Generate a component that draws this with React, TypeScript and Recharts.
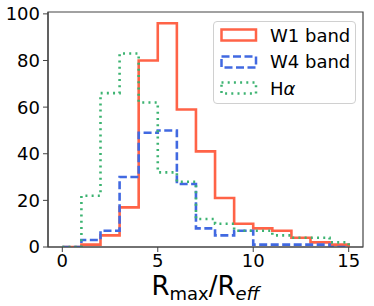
import { LineChart, Line, XAxis, YAxis, ReferenceArea, Legend } from "recharts";

// bin left edges (bin width 1)
const binEdges = [0, 1, 2, 3, 4, 5, 6, 7, 8, 9, 10, 11, 12, 13, 14];
const w1Counts = [0, 1, 5, 17, 80, 96, 59, 41, 21, 10, 8, 7, 4, 2, 1];
const w4Counts = [0, 3, 7, 30, 49, 50, 27, 8, 5, 7, 1, 1, 1, 1, 0];
const haCounts = [0, 22, 66, 83, 62, 32, 28, 12, 10, 7, 7, 5, 4, 4, 2];
const xTicks = [0, 5, 10, 15];
const yTicks = [0, 20, 40, 60, 80, 100];

const series = [
  { key: "w1", name: "W1 band", color: "#ff6347", dash: undefined as string | undefined },
  { key: "w4", name: "W4 band", color: "#4169e1", dash: "8 3.5" },
  { key: "ha", name: "Hα", color: "#3cb371", dash: "2 4.2" },
];

// step outline: one point per bin edge, closing back to 0 at the last edge
const data = [
  ...binEdges.map((x, i) => ({ x, w1: w1Counts[i], w4: w4Counts[i], ha: haCounts[i] })),
  { x: binEdges[binEdges.length - 1] + 1, w1: 0, w4: 0, ha: 0 },
];

const FONT = "'DejaVu Sans', sans-serif";
const AXIS = "#444";

const XLabel = (props: any) => {
  const { viewBox } = props;
  const cx = viewBox.x + viewBox.width / 2;
  return (
    <text x={cx} y={295} textAnchor="middle" fontSize={26} fontFamily={FONT} fill="#000">
      R
      <tspan fontSize={18} dy={5}>max</tspan>
      <tspan dy={-5}>/R</tspan>
      <tspan fontSize={18} dy={5} fontStyle="italic">eff</tspan>
    </text>
  );
};

const renderLegend = () => (
  <div
    style={{
      width: 143,
      height: 83,
      boxSizing: "border-box",
      border: "1px solid #d0d0d0",
      borderRadius: 4,
      background: "#fff",
      position: "relative",
      fontFamily: FONT,
      fontSize: 18,
      color: "#000",
    }}
  >
    {series.map((s, i) => (
      <div
        key={s.key}
        style={{
          position: "absolute",
          left: 6,
          top: 0 + i * 26.5,
          height: 26,
          display: "flex",
          alignItems: "center",
          whiteSpace: "nowrap",
        }}
      >
        <svg width={38} height={14} style={{ display: "block" }}>
          <rect
            x={1.5}
            y={1.5}
            width={34.5}
            height={11}
            fill="none"
            stroke={s.color}
            strokeWidth={2.5}
            strokeDasharray={s.dash}
          />
        </svg>
        <span style={{ marginLeft: 12 }}>
          {s.key === "ha" ? (
            <>
              H<i>α</i>
            </>
          ) : (
            s.name
          )}
        </span>
      </div>
    ))}
  </div>
);

export default function App() {
  return (
    <div style={{ position: "absolute", left: 0, top: 0, width: 374, height: 306, background: "#fff" }}>
      <LineChart width={374} height={306} data={data} margin={{ top: 12, right: 11, bottom: 0, left: 0 }}>
        <XAxis
          dataKey="x"
          type="number"
          domain={[-0.75, 15.75]}
          ticks={xTicks}
          allowDataOverflow
          height={59}
          tickSize={5}
          tickMargin={2}
          axisLine={{ stroke: AXIS, strokeWidth: 1.2 }}
          tickLine={{ stroke: AXIS }}
          tick={{ fill: "#000", fontSize: 18, fontFamily: FONT }}
          label={<XLabel />}
        />
        <YAxis
          type="number"
          domain={[0, 100.8]}
          ticks={yTicks}
          allowDataOverflow
          width={48}
          tickSize={5}
          tickMargin={3}
          axisLine={{ stroke: AXIS, strokeWidth: 1.2 }}
          tickLine={{ stroke: AXIS }}
          tick={{ fill: "#000", fontSize: 18, fontFamily: FONT }}
        />
        <ReferenceArea x1={-0.75} x2={15.75} y1={0} y2={100.8} fill="none" stroke={AXIS} strokeWidth={1.2} ifOverflow="visible" />
        {series.map((s) => (
          <Line
            key={s.key}
            dataKey={s.key}
            name={s.name}
            type="stepAfter"
            stroke={s.color}
            strokeWidth={2.6}
            strokeDasharray={s.dash}
            dot={false}
            activeDot={false}
            isAnimationActive={false}
          />
        ))}
        <Legend
          layout="vertical"
          align="center"
          verticalAlign="middle"
          content={renderLegend}
          wrapperStyle={{ position: "absolute", left: 213, top: 21, width: 143, height: 83 }}
        />
      </LineChart>
    </div>
  );
}
